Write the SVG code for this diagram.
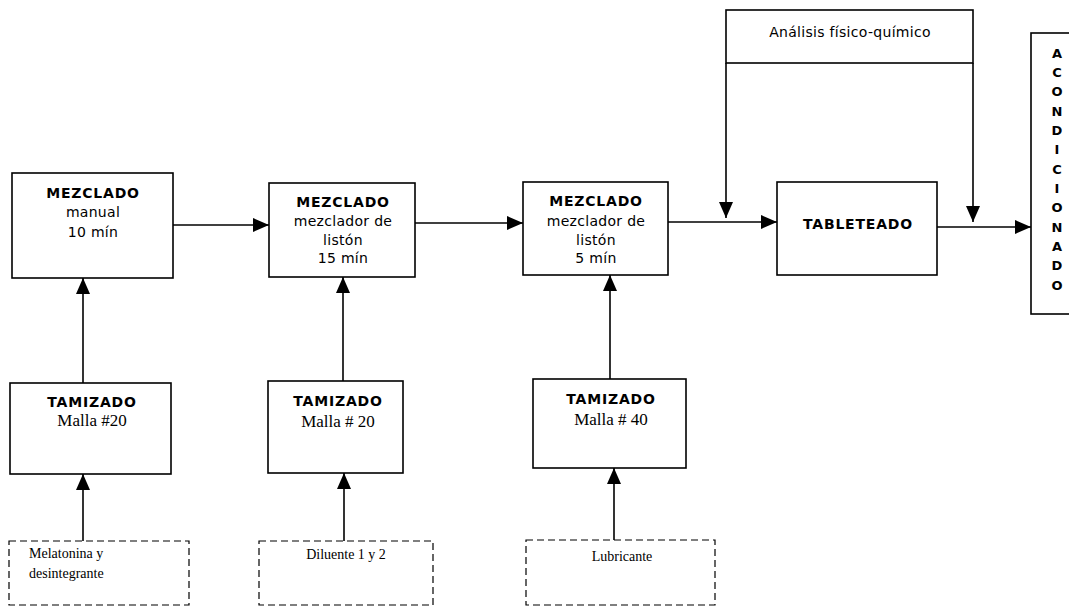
<svg xmlns="http://www.w3.org/2000/svg" width="1069" height="607" viewBox="0 0 1069 607">
<defs>
<marker id="ah" viewBox="0 0 16 14" refX="16" refY="7" markerWidth="16" markerHeight="14" markerUnits="userSpaceOnUse" orient="auto">
<path d="M0,0 L16,7 L0,14 z" fill="#000"/>
</marker>
<style>
.box{fill:#fff;stroke:#000;stroke-width:1.6}
.dash{fill:none;stroke:#000;stroke-width:1.2;stroke-dasharray:7 4}
.edge{fill:none;stroke:#000;stroke-width:1.6}
.arr{fill:none;stroke:#000;stroke-width:1.6;marker-end:url(#ah)}
.b{font-family:"DejaVu Sans",Verdana,sans-serif;font-weight:bold;font-size:14px;letter-spacing:0.8px;text-anchor:middle;fill:#000}
.r{font-family:"DejaVu Sans",Verdana,sans-serif;font-size:14px;letter-spacing:0.3px;text-anchor:middle;fill:#000}
.s{font-family:"Liberation Serif","Times New Roman",serif;font-size:17px;text-anchor:middle;fill:#000}
.t{font-family:"Liberation Serif","Times New Roman",serif;font-size:14px;fill:#000}
.v{font-family:"DejaVu Sans",Verdana,sans-serif;font-weight:bold;font-size:13px;text-anchor:middle;fill:#000}
</style>
</defs>
<rect width="1069" height="607" fill="#fff"/>

<g id="connectors">
<path class="arr" d="M173,225 H269"/>
<path class="arr" d="M415,223 H523"/>
<path class="arr" d="M668,222 H777"/>
<path class="arr" d="M937,227 H1031"/>
<path class="arr" d="M726,63 V218"/>
<path class="arr" d="M973,63 V222"/>
<path class="arr" d="M83,383 V278"/>
<path class="arr" d="M343,381 V277"/>
<path class="arr" d="M610,379 V275"/>
<path class="arr" d="M83,541 V474"/>
<path class="arr" d="M344,541 V473"/>
<path class="arr" d="M614,540 V468"/>
</g>

<g id="mezclado1">
<rect class="box" x="12" y="173" width="161" height="105"/>
<text class="b" x="93" y="198">MEZCLADO</text>
<text class="r" x="93" y="217">manual</text>
<text class="r" x="93" y="237">10 mín</text>
</g>

<g id="mezclado2">
<rect class="box" x="269" y="183" width="146" height="94"/>
<text class="b" x="343" y="207">MEZCLADO</text>
<text class="r" x="343" y="226">mezclador de</text>
<text class="r" x="343" y="245">listón</text>
<text class="r" x="343" y="263">15 mín</text>
</g>

<g id="mezclado3">
<rect class="box" x="523" y="182" width="145" height="93"/>
<text class="b" x="596" y="206">MEZCLADO</text>
<text class="r" x="596" y="226">mezclador de</text>
<text class="r" x="596" y="245">listón</text>
<text class="r" x="596" y="263">5 mín</text>
</g>

<g id="tableteado">
<rect class="box" x="777" y="182" width="160" height="93"/>
<text class="b" x="858" y="229">TABLETEADO</text>
</g>

<g id="analisis">
<rect class="box" x="726" y="10" width="247" height="53"/>
<text class="r" x="850" y="37">Análisis físico-químico</text>
</g>

<g id="acondicionado">
<rect class="box" x="1031" y="33" width="45" height="281"/>
<text class="v" x="1057" y="58">A</text>
<text class="v" x="1057" y="77">C</text>
<text class="v" x="1057" y="96">O</text>
<text class="v" x="1057" y="116">N</text>
<text class="v" x="1057" y="135">D</text>
<text class="v" x="1057" y="154">I</text>
<text class="v" x="1057" y="174">C</text>
<text class="v" x="1057" y="193">I</text>
<text class="v" x="1057" y="212">O</text>
<text class="v" x="1057" y="232">N</text>
<text class="v" x="1057" y="251">A</text>
<text class="v" x="1057" y="270">D</text>
<text class="v" x="1057" y="290">O</text>
</g>

<g id="tamizado1">
<rect class="box" x="10" y="383" width="161" height="91"/>
<text class="b" x="92" y="407">TAMIZADO</text>
<text class="s" x="92" y="426">Malla #20</text>
</g>

<g id="tamizado2">
<rect class="box" x="268" y="381" width="135" height="92"/>
<text class="b" x="338" y="406">TAMIZADO</text>
<text class="s" x="338" y="427">Malla # 20</text>
</g>

<g id="tamizado3">
<rect class="box" x="533" y="379" width="153" height="89"/>
<text class="b" x="611" y="404">TAMIZADO</text>
<text class="s" x="611" y="425">Malla # 40</text>
</g>

<g id="fuente1">
<rect class="dash" x="9" y="541" width="180" height="64"/>
<text class="t" x="29" y="558">Melatonina y</text>
<text class="t" x="29" y="578">desintegrante</text>
</g>

<g id="fuente2">
<rect class="dash" x="259" y="541" width="174" height="64"/>
<text class="t" x="346" y="559" text-anchor="middle">Diluente 1 y 2</text>
</g>

<g id="fuente3">
<rect class="dash" x="526" y="540" width="189" height="65"/>
<text class="t" x="622" y="561" text-anchor="middle">Lubricante</text>
</g>
</svg>
